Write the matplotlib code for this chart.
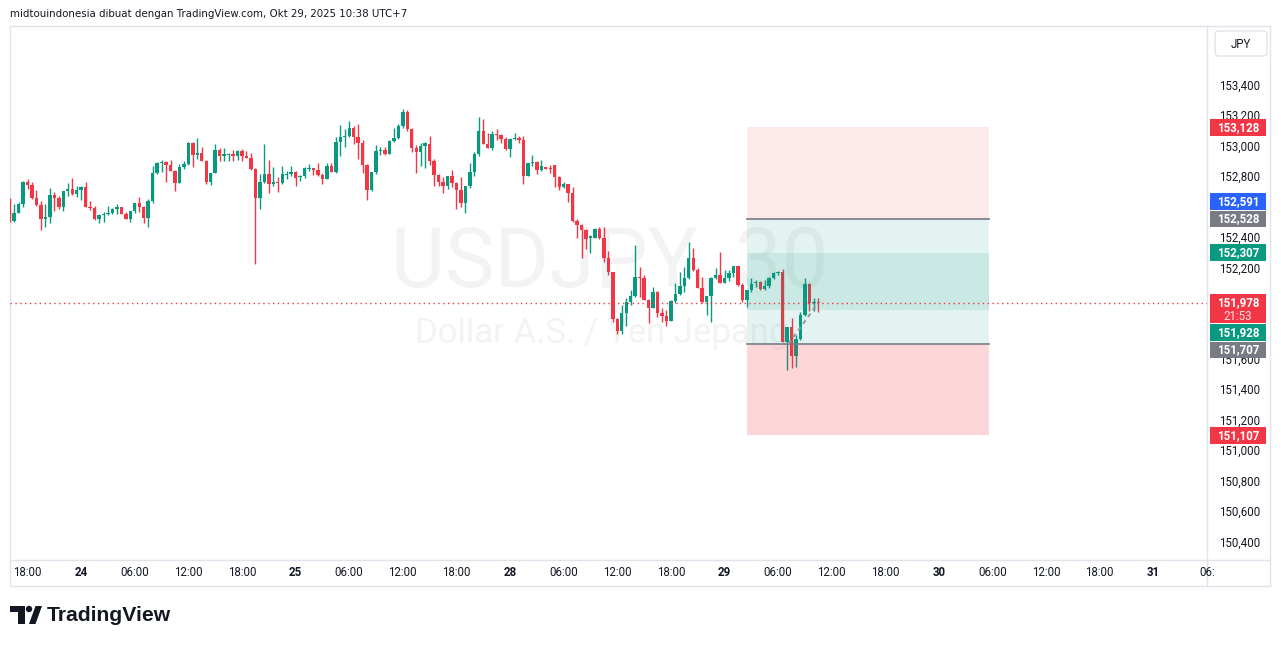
"""USDJPY 30m candlestick chart, TradingView-style snapshot with two position tools."""

import matplotlib.pyplot as plt
from matplotlib.patches import Rectangle, FancyBboxPatch, Polygon, Circle

W, H = 1281, 646
UP = "#089981"
DOWN = "#f23645"
GRAY = "#787b86"
BLUE = "#2962ff"
TEXT = "#131722"

# ---- OHLC, 30-minute bars (bar 0 = Oct 23 16:00 UTC+7) ----
opens = [
    152608, 152514, 152569, 152628, 152772, 152750, 152667, 152621, 152529, 152540,
    152685, 152667, 152608, 152709, 152724, 152691, 152716, 152737, 152608, 152601,
    152527, 152554, 152562, 152569, 152593, 152606, 152562, 152527, 152580, 152632,
    152606, 152536, 152643, 152827, 152895, 152901, 152882, 152844, 152766, 152869,
    152888, 153026, 152949, 152961, 152910, 152770, 152827, 152980, 152943, 152950,
    152956, 152943, 152976, 152941, 152930, 152857, 152667, 152770, 152823, 152759,
    152770, 152766, 152818, 152825, 152838, 152805, 152810, 152856, 152862, 152851,
    152818, 152792, 152875, 152836, 153035, 153068, 153074, 153125, 153066, 153028,
    152882, 152720, 152836, 152974, 152980, 152954, 153041, 153059, 153140, 153232,
    153116, 152995, 152969, 153006, 153021, 152910, 152814, 152770, 152746, 152810,
    152766, 152720, 152634, 152744, 152838, 152956, 153105, 153022, 152995, 153085,
    153079, 153054, 152987, 153052, 153057, 153046, 152812, 152893, 152901, 152847,
    152867, 152860, 152882, 152801, 152737, 152757, 152696, 152516, 152488, 152455,
    152400, 152405, 152460, 152405, 152273, 152177, 151871, 151794, 151912, 151984,
    152022, 152149, 152140, 151996, 151945, 152050, 151912, 151893, 151858, 151989,
    152033, 152087, 152138, 152273, 152193, 152076, 151984, 152022, 152142, 152160,
    152109, 152142, 152175, 152219, 152094, 151996, 152061, 152109, 152116, 152068,
    152087, 152142, 152171, 152181, 151722, 151820, 151630, 151739, 151897, 152099,
    151974, 151985,
]
highs = [
    152663, 152626, 152639, 152779, 152790, 152770, 152718, 152643, 152626, 152729,
    152705, 152678, 152713, 152764, 152796, 152746, 152744, 152770, 152645, 152611,
    152562, 152575, 152613, 152601, 152626, 152606, 152575, 152582, 152634, 152672,
    152615, 152657, 152875, 152903, 152915, 152910, 152917, 152847, 152888, 152908,
    153035, 153035, 153057, 152998, 152915, 152827, 153020, 152995, 152993, 152961,
    152980, 152982, 152987, 152972, 152961, 152862, 152823, 153020, 152915, 152871,
    152801, 152875, 152844, 152875, 152840, 152818, 152869, 152888, 152862, 152897,
    152831, 152895, 152897, 153068, 153144, 153118, 153171, 153140, 153151, 153046,
    152888, 152836, 153013, 153000, 153000, 153046, 153125, 153151, 153251, 153245,
    153127, 153013, 153028, 153030, 153074, 152921, 152823, 152801, 152810, 152849,
    152772, 152801, 152744, 152897, 152967, 153195, 153184, 153092, 153103, 153118,
    153085, 153066, 153056, 153092, 153072, 153072, 152895, 152947, 152910, 152915,
    152870, 152882, 152882, 152810, 152772, 152757, 152739, 152527, 152494, 152462,
    152422, 152466, 152477, 152477, 152317, 152177, 151875, 151963, 152007, 152061,
    152357, 152214, 152160, 152002, 152083, 152055, 151945, 151930, 151996, 152105,
    152177, 152214, 152374, 152335, 152203, 152149, 152022, 152149, 152204, 152313,
    152193, 152193, 152219, 152219, 152105, 152061, 152138, 152127, 152120, 152127,
    152149, 152181, 152186, 152199, 151820, 151879, 151766, 151919, 152142, 152105,
    152011, 152011,
]
lows = [
    152510, 152510, 152565, 152608, 152722, 152659, 152615, 152457, 152477, 152503,
    152580, 152595, 152582, 152680, 152687, 152674, 152654, 152606, 152586, 152523,
    152499, 152510, 152552, 152558, 152558, 152558, 152527, 152506, 152569, 152573,
    152501, 152477, 152634, 152823, 152838, 152772, 152842, 152713, 152762, 152858,
    152880, 152871, 152923, 152910, 152757, 152750, 152827, 152910, 152908, 152908,
    152908, 152917, 152908, 152930, 152849, 152234, 152595, 152764, 152698, 152742,
    152707, 152759, 152788, 152812, 152746, 152777, 152796, 152840, 152818, 152812,
    152759, 152792, 152836, 152831, 152943, 153002, 153066, 153020, 152923, 152831,
    152654, 152713, 152825, 152947, 152949, 152954, 153033, 153054, 153127, 153105,
    152969, 152831, 152877, 152864, 152882, 152746, 152746, 152700, 152724, 152735,
    152595, 152608, 152569, 152729, 152808, 152943, 153022, 152995, 152982, 153046,
    153026, 152978, 152934, 153046, 153024, 152757, 152812, 152877, 152823, 152844,
    152853, 152827, 152740, 152718, 152729, 152637, 152509, 152400, 152269, 152330,
    152302, 152405, 152396, 152247, 152160, 151853, 151772, 151772, 151827, 151963,
    152018, 152018, 151996, 151843, 151945, 151886, 151853, 151827, 151858, 151974,
    152028, 152050, 152131, 152186, 152072, 151974, 151897, 151849, 152133, 152109,
    152109, 152123, 152149, 152089, 151985, 151951, 152050, 152079, 152061, 152061,
    152076, 152133, 152160, 151718, 151536, 151551, 151558, 151733, 151893, 151923,
    151923, 151915,
]
closes = [
    152514, 152569, 152628, 152772, 152750, 152667, 152621, 152529, 152540, 152685,
    152667, 152608, 152709, 152724, 152691, 152716, 152737, 152608, 152601, 152527,
    152554, 152562, 152569, 152593, 152606, 152562, 152527, 152580, 152632, 152606,
    152536, 152643, 152827, 152895, 152901, 152882, 152844, 152766, 152869, 152888,
    153026, 152949, 152961, 152910, 152770, 152827, 152980, 152943, 152954, 152956,
    152943, 152976, 152941, 152930, 152857, 152667, 152770, 152823, 152759, 152770,
    152766, 152823, 152825, 152838, 152798, 152810, 152862, 152862, 152851, 152818,
    152792, 152875, 152836, 153035, 153066, 153074, 153125, 153066, 153028, 152882,
    152720, 152836, 152976, 152980, 152954, 153041, 153059, 153140, 153232, 153116,
    152995, 152969, 153006, 153024, 152910, 152814, 152770, 152746, 152810, 152766,
    152720, 152634, 152744, 152838, 152956, 153105, 153022, 152995, 153085, 153079,
    153054, 152987, 153052, 153057, 153046, 152812, 152895, 152901, 152847, 152877,
    152856, 152854, 152801, 152740, 152757, 152696, 152516, 152488, 152455, 152396,
    152413, 152460, 152405, 152273, 152177, 151871, 151794, 151912, 151984, 152022,
    152149, 152140, 151996, 151945, 152050, 151912, 151893, 151858, 151989, 152033,
    152087, 152138, 152273, 152193, 152076, 151984, 152022, 152142, 152160, 152109,
    152142, 152175, 152219, 152094, 151996, 152061, 152101, 152116, 152068, 152087,
    152142, 152171, 152181, 151722, 151820, 151630, 151739, 151897, 152099, 151974,
    151985, 151978,
]

# ---- time axis ----
time_tick_bars = [4, 16, 28, 40, 52, 64, 76, 88, 100, 112, 124, 136, 148, 160,
                  172, 184, 196, 208, 220, 232, 244, 256, 268]
time_tick_labels = ["18:00", "24", "06:00", "12:00", "18:00", "25", "06:00", "12:00",
                    "18:00", "28", "06:00", "12:00", "18:00", "29", "06:00", "12:00",
                    "18:00", "30", "06:00", "12:00", "18:00", "31", "06:"]
day_labels = ["24", "25", "28", "29", "30", "31"]

# ---- price axis ----
price_ticks = [150400, 150600, 150800, 151000, 151200, 151400, 151600,
               152200, 152400, 152800, 153000, 153200, 153400]
last_price = 151978
countdown = "21:53"

# position tools: short (upper) and long (lower)
short_entry, short_stop, short_target = 152528, 153128, 151928
long_entry, long_stop, long_target = 151707, 151107, 152307
tool_start, tool_end = 165, 219.25
long_fill_bar = 174.3

# coloured labels on the price scale (value, colour)
scale_values = [153128, 152591, 152528, 152307, 151928, 151707, 151107]
scale_colors = [DOWN, BLUE, GRAY, UP, UP, GRAY, DOWN]
scale_shift_px = [0, -8, 0, 0, 22, 6, 0]   # label collision offsets

# ---- layout (pixels) ----
PLOT_L, PLOT_R, PLOT_T, PLOT_B = 10, 1207, 26, 560
FRAME_R, FRAME_B = 1270, 586
Y_TOP, Y_BOT = 153794, 150289          # prices at PLOT_T / PLOT_B
X_LEFT, X_RIGHT = 0.07, 268.0          # bar index at PLOT_L / PLOT_R
PPX = (Y_TOP - Y_BOT) / (PLOT_B - PLOT_T)


def fr(x0, y0, x1, y1):
    return [x0 / W, 1 - y1 / H, (x1 - x0) / W, (y1 - y0) / H]


fig = plt.figure(figsize=(W / 100, H / 100), dpi=100)
fig.patch.set_facecolor("white")

deco = fig.add_axes([0, 0, 1, 1], zorder=0)
deco.set_xlim(0, W)
deco.set_ylim(H, 0)
deco.axis("off")

ax = fig.add_axes(fr(PLOT_L, PLOT_T, PLOT_R, PLOT_B), zorder=2)
ax.patch.set_alpha(0)
pax = fig.add_axes(fr(PLOT_R, PLOT_T, FRAME_R, PLOT_B), zorder=3)
pax.patch.set_alpha(0)

# ---- header, frame, logo ----
deco.text(10, 14, "midtouindonesia dibuat dengan TradingView.com, Okt 29, 2025 10:38 UTC+7",
          fontsize=7.4, color=TEXT, va="center", ha="left", family="DejaVu Sans")
frame_kw = dict(color="#e0e3eb", lw=1)
deco.plot([PLOT_L, FRAME_R, FRAME_R, PLOT_L, PLOT_L],
          [PLOT_T, PLOT_T, FRAME_B, FRAME_B, PLOT_T], **frame_kw)
deco.plot([PLOT_R, PLOT_R], [PLOT_T, FRAME_B], **frame_kw)
deco.plot([PLOT_L, FRAME_R], [PLOT_B, PLOT_B], **frame_kw)

# JPY currency button
deco.add_patch(FancyBboxPatch((1215, 31), 52, 25, boxstyle="round,pad=0,rounding_size=4",
                              facecolor="white", edgecolor="#e0e3eb", lw=1))
deco.text(1241, 44, "JPY", fontsize=8.3, color=TEXT, ha="center", va="center",
          family="Roboto")

deco.add_patch(Polygon([(10, 606), (25, 606), (25, 624), (18, 624), (18, 612), (10, 612)],
                       closed=True, color=TEXT, lw=0))
deco.add_patch(Circle((29, 609), 3.2, color=TEXT, lw=0))
deco.add_patch(Polygon([(29, 624), (35.5, 624), (42, 606), (35.5, 606)],
                       closed=True, color=TEXT, lw=0))
deco.text(47, 615.5, "TradingView", fontsize=15.2, fontweight="bold", color=TEXT,
          va="center", ha="left", family="Liberation Sans")

# watermark
deco.text(610, 264, "USDJPY, 30", fontsize=60, color="#f3f3f4", ha="center",
          va="center", family="Roboto")
deco.text(602, 333, "Dollar A.S. / Yen Jepang", fontsize=25, color="#f3f3f4",
          ha="center", va="center", family="Roboto")

# ---- candles ----
for i, (o, h, l, c) in enumerate(zip(opens, highs, lows, closes)):
    col = UP if c >= o else DOWN
    ax.plot([i, i], [l, h], color=col, lw=1, solid_capstyle="butt", zorder=3)
    lo, hi = min(o, c), max(o, c)
    ax.add_patch(Rectangle((i - 0.38, lo), 0.76, max(hi - lo, PPX), color=col,
                           lw=0, zorder=3))


# ---- position tools (drawn above candles, translucent) ----
def band(y0, y1, color, alpha):
    ax.add_patch(Rectangle((tool_start, y0), tool_end - tool_start, y1 - y0,
                           facecolor=color, alpha=alpha, lw=0, zorder=4))


band(short_entry, short_stop, DOWN, 0.11)
band(short_target, short_entry, UP, 0.11)
band(long_stop, long_entry, DOWN, 0.2)
band(long_entry, long_target, UP, 0.11)
for lvl in (short_entry, long_entry):
    ax.plot([tool_start, tool_end], [lvl, lvl], color=GRAY, lw=1.2, zorder=5)
ax.plot([long_fill_bar, len(closes) - 1], [long_entry, last_price], color="#9598a1",
        lw=1.5, ls=(0, (2, 2)), zorder=5)

# current price line
ax.axhline(last_price, color=DOWN, lw=1, ls=(0, (1, 2.5)), zorder=6)

ax.set_xlim(X_LEFT, X_RIGHT)
ax.set_ylim(Y_BOT, Y_TOP)
ax.set_xticks(time_tick_bars)
ax.set_xticklabels(time_tick_labels)
for lab in ax.get_xticklabels():
    lab.set_fontsize(8.3)
    lab.set_color(TEXT)
    lab.set_family("Roboto")
    if lab.get_text() in day_labels:
        lab.set_fontweight("bold")
ax.tick_params(axis="x", length=0, pad=4)
ax.set_yticks([])
for s in ax.spines.values():
    s.set_visible(False)

# ---- price scale ----
pax.set_xlim(PLOT_R, FRAME_R)
pax.set_ylim(Y_BOT, Y_TOP)
pax.axis("off")
for p in price_ticks:
    pax.text(1240, p, f"{p:,}", fontsize=8.3, color=TEXT, ha="center", va="center",
             family="Roboto", zorder=1)

for v, col, sh in zip(scale_values, scale_colors, scale_shift_px):
    yc = v - sh * PPX
    pax.add_patch(Rectangle((1210, yc - 8.3 * PPX), 56, 16.6 * PPX, facecolor=col,
                            lw=0, zorder=4))
    pax.text(1238, yc, f"{v:,}", fontsize=8.3, color="white", fontweight="bold",
             ha="center", va="center", family="Roboto", zorder=5)

# last price with countdown
pax.add_patch(Rectangle((1210, last_price - 20.7 * PPX), 56, 29.4 * PPX,
                        facecolor=DOWN, lw=0, zorder=4))
pax.text(1238, last_price, f"{last_price:,}", fontsize=8.3, color="white",
         fontweight="bold", ha="center", va="center", family="Roboto", zorder=5)
pax.text(1238, last_price - 14 * PPX, countdown, fontsize=8.3, color="#fde0e3",
         ha="center", va="center", family="Roboto", zorder=5)

fig.savefig("out.png", dpi=100, facecolor="white")
